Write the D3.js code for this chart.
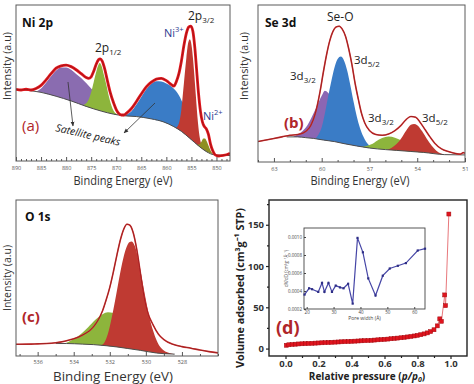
<!DOCTYPE html>
<html>
<head>
<meta charset="utf-8">
<script src="https://cdn.jsdelivr.net/npm/d3@7"></script>
<style>
  body { margin: 0; background: #fff; }
  text { font-family: "Open Sans", sans-serif; }
</style>
</head>
<body>
<script>

// ---------- (a) Ni 2p : [binding energy, intensity] ----------
var aTicks = [890, 885, 880, 875, 870, 865, 860, 855, 850];
var aRaw = [[890,46],[889,45.5],[888,46],[887,45.5],[886,46.5],[885,48.5],[884,52],[883,56],[882,59.5],[881,61],[880,61.5],[879,60.5],[878,58.5],[877,56],[876,53.5],[875.5,53],[875,54],[874.5,57.5],[874,62],[873.5,65],[873.2,65.5],[872.8,64],[872.3,59],[871.8,52],[871.2,44],[870.5,37],[870,33],[869.5,30.5],[869,29.5],[868.5,29.5],[868,30.5],[867,33.5],[866,38],[865,43],[864,47.5],[863,50.5],[862,52.5],[861,53],[860,51.5],[859,49],[858.5,48],[858,51],[857.5,56],[857,64],[856.5,74],[856,82],[855.5,86],[855.1,86.5],[854.7,83],[854.3,72],[854,60],[853.6,44],[853.2,32],[852.8,25],[852.4,22],[852,20.5],[851.6,17],[851.2,11],[850.8,7],[850.4,4.5],[850,3.5],[849.5,3.2],[849,3.5],[848,4],[847.3,5]];
var aBg = [[890,46],[887,45],[885,44],[882,41.5],[879,38.5],[876,35],[873,32],[870.5,30],[868.5,29],[866,28.5],[863,27],[860.5,25],[858.5,22],[857,19],[855.3,14.5],[853.5,9.5],[852,6],[850.5,4],[847.3,3.5]];
// peak heights above the background
var aSat1 = [[886,0],[885,2.5],[884,7],[883,12],[882,16.5],[881,19.5],[880,20.5],[879,20],[878,18.5],[877,17],[876,15],[875,12.5],[874,10],[873,7],[872,4],[871,1.5],[870,0.3],[869,0]];
var aP12 = [[876.5,0.5],[876,2],[875.5,5],[875,10],[874.5,17],[874,24],[873.5,29.5],[873.3,30.5],[873,29.5],[872.5,24],[872,18],[871.5,11],[871,5.5],[870.5,2],[870,0.5],[869.5,0]];
var aSat2 = [[868.5,0],[868,0.8],[867,3],[866,7.5],[865,13],[864,18.5],[863,22.5],[862,25],[861,25.5],[860,25.5],[859,25],[858,23.5],[857,20],[856,15],[855,9],[854,4],[853,1.5],[852,0.3],[851.5,0]];
var aNi3 = [[858,0.5],[857.5,4],[857,14],[856.5,32],[856,50],[855.6,61],[855.3,63.5],[855,61],[854.6,50],[854.2,34],[853.8,18],[853.4,7],[853,2],[852.5,0.3],[852,0]];
var aNi2 = [[853.8,0.3],[853.4,1.5],[853,4],[852.6,7],[852.3,7.7],[852,7],[851.6,4.5],[851.2,2],[850.8,0.5],[850.4,0]];

// ---------- (b) Se 3d ----------
var bTicks = [63, 60, 57, 54, 51];
var bRaw = [[64,13],[63.5,14],[63,15],[62.5,16],[62,17],[61.5,17.5],[61,19.5],[60.7,23],[60.4,31],[60.1,45],[59.9,57],[59.7,68],[59.5,77],[59.3,83],[59.1,86],[58.9,86.5],[58.7,84.5],[58.5,80],[58.3,72],[58.1,62],[57.9,50],[57.7,40],[57.5,31],[57.3,25],[57,20],[56.6,17.5],[56.2,17],[55.8,17.8],[55.4,20],[55,23.5],[54.7,27],[54.4,29],[54.1,28.5],[53.8,25],[53.5,20.5],[53.2,16],[52.9,12],[52.5,8.5],[52,6.5],[51.5,5.2],[51.3,5],[51.1,6],[51,5.5]];
var bBg = [[62.2,16],[61.5,16],[61,15.5],[60.5,15],[59.9,14],[59.2,13],[58.6,11.7],[57.8,10.2],[57,8.9],[56,7.9],[55.3,7.4],[54.4,6.7],[53.6,6.1],[52.3,4.7],[51,4.5]];
var bSeO32 = [[61.8,0],[61.5,1.5],[61.2,4],[60.9,8],[60.6,14],[60.3,21],[60,28],[59.8,31.5],[59.6,30.5],[59.3,26],[59,20],[58.7,14],[58.4,8.5],[58.1,4.5],[57.8,2],[57.5,0.7],[57.2,0]];
var bSeO52 = [[60.4,0],[60.2,3],[60,8],[59.8,17],[59.6,28],[59.4,38],[59.2,47],[59,53],[58.8,55],[58.6,53],[58.4,47],[58.2,38],[58,28],[57.8,19],[57.6,12],[57.4,7],[57.2,3.5],[57,1.5],[56.7,0.4],[56.4,0]];
var bSe32 = [[57.5,0],[57.2,1],[56.8,3],[56.4,6],[56,8],[55.8,8.5],[55.4,8],[55,6.5],[54.6,4.5],[54.2,2.5],[53.8,1],[53.4,0.3],[53,0]];
var bSe52 = [[55.9,0],[55.6,1.5],[55.3,4],[55,8],[54.7,13],[54.4,17],[54.2,17.7],[54,17],[53.7,13.5],[53.4,9],[53.1,5],[52.8,2],[52.5,0.5],[52.2,0]];

// ---------- (c) O 1s ----------
var cTicks = [536, 534, 532, 530, 528];
var cRaw = [[537.2,7.5],[536.5,7.6],[536,7.8],[535.5,8],[535,8.5],[534.5,9.5],[534,11],[533.5,13.5],[533,17.5],[532.7,22],[532.4,29],[532.2,36],[532,44],[531.8,54],[531.6,65],[531.4,75],[531.2,82],[531.05,84.5],[530.9,84],[530.7,79],[530.5,68],[530.3,53],[530.1,38],[529.9,28],[529.6,20],[529.3,14],[529,10.5],[528.5,7.5],[528,6],[527.5,5],[527,3.8],[526.5,2.8],[526,2]];
var cBg = [[535,8],[534.4,8],[533.5,7.6],[532.9,7.3],[532.2,6.6],[531.6,5.8],[531,4.8],[530.3,3.6],[529.4,1.9],[529,1.5],[528.4,1.2]];
var cOH = [[534.6,0],[534.4,0.5],[534,3],[533.6,6.5],[533.2,11],[532.8,16],[532.4,20],[532.1,21.5],[531.8,21.5],[531.4,19],[531,15],[530.6,10.5],[530.2,6],[529.8,3],[529.4,1.2],[529,0.3],[528.7,0]];
var cLat = [[532.5,0],[532.3,2],[532.1,8],[531.9,18],[531.7,30],[531.5,43],[531.3,55],[531.1,64],[530.9,68.5],[530.8,69],[530.6,66],[530.4,57],[530.2,45],[530,33],[529.8,22],[529.6,14],[529.4,8],[529.2,4],[529,2],[528.7,0.5],[528.4,0]];

// ---------- (d) N2 isotherm : [p/p0, volume] ----------
var dXTicks = [0, 0.2, 0.4, 0.6, 0.8, 1.0];
var dYTicks = [0, 50, 100, 150];
var dIso = [[0.005,4.0],[0.02,4.6],[0.04,5.0],[0.06,5.3],[0.08,5.6],[0.10,5.8],[0.12,6.0],[0.14,6.2],[0.16,6.4],[0.18,6.6],[0.20,6.8],[0.22,7.0],[0.24,7.2],[0.26,7.4],[0.28,7.6],[0.30,7.8],[0.32,8.0],[0.34,8.2],[0.36,8.4],[0.38,8.6],[0.40,8.8],[0.42,9.0],[0.44,9.2],[0.46,9.4],[0.48,9.6],[0.50,9.8],[0.52,10.0],[0.54,10.3],[0.56,10.6],[0.58,10.9],[0.60,11.2],[0.62,11.5],[0.64,11.9],[0.66,12.3],[0.68,12.7],[0.70,13.1],[0.72,13.6],[0.74,14.1],[0.76,14.7],[0.78,15.3],[0.80,16.0],[0.82,16.8],[0.84,17.8],[0.86,19.0],[0.88,20.6],[0.90,22.8],[0.92,27.5],[0.935,36.0],[0.945,33.0],[0.965,65.0],[0.97,52.0],[0.99,163.0]];
// inset: pore size distribution [pore width (A), dV/dD]
var dPoreTicks = [20, 30, 40, 50, 60];
var dPsdTicks = [0.0002, 0.0004, 0.0006, 0.0008, 0.0010];
var dPsd = [[19.2,0.00036],[20.9,0.00043],[22.0,0.00042],[24.3,0.00039],[25.7,0.00049],[26.6,0.00039],[28.1,0.00049],[29.4,0.00039],[30.8,0.00046],[32.4,0.00044],[33.7,0.00043],[35.4,0.00048],[37.1,0.00026],[38.9,0.00099],[40.9,0.00083],[42.9,0.00054],[45.6,0.00035],[48.3,0.00057],[50.9,0.00065],[53.9,0.00068],[56.9,0.00071],[61.3,0.00085],[64.0,0.00087]];

var svg = d3.select("body").append("svg")
  .attr("width", 474)
  .attr("height", 384);

var defs = svg.append("defs");
defs.append("marker").attr("id", "arr")
  .attr("viewBox", "0 0 10 10").attr("refX", 9).attr("refY", 5)
  .attr("markerWidth", 6).attr("markerHeight", 6).attr("orient", "auto")
  .append("path").attr("d", "M0,1 L10,5 L0,9 z").attr("fill", "#333");

function xpsPanel(o) {
  var x = d3.scaleLinear().domain(o.eDomain).range([o.left, o.left + o.w]);
  var y = d3.scaleLinear().domain([0, 100]).range([o.top + o.h, o.top]);
  defs.append("clipPath").attr("id", "clip" + o.name)
    .append("rect").attr("x", o.left).attr("y", o.top).attr("width", o.w).attr("height", o.h);
  var g = svg.append("g").attr("clip-path", "url(#clip" + o.name + ")");

  // background used as the base of each fitted peak
  var bgAsc = o.bg.slice().sort(function (a, b) { return a[0] - b[0]; });
  var base = d3.scaleLinear().domain(bgAsc.map(function (d) { return d[0]; }))
    .range(bgAsc.map(function (d) { return d[1]; })).clamp(true);

  o.comps.forEach(function (c) {
    var area = d3.area().curve(d3.curveMonotoneX)
      .x(function (d) { return x(d[0]); })
      .y0(function (d) { return y(base(d[0])); })
      .y1(function (d) { return y(base(d[0]) + d[1]); });
    g.append("path").datum(c.data).attr("fill", c.color).attr("d", area);
  });

  var line = d3.line().curve(d3.curveMonotoneX)
    .x(function (d) { return x(d[0]); })
    .y(function (d) { return y(d[1]); });
  g.append("path").datum(o.bg).attr("fill", "none").attr("stroke", "#4d4d4d").attr("stroke-width", 1).attr("d", line);

  g.append("path").datum(o.raw).attr("fill", "none").attr("stroke", o.rawColor)
    .attr("stroke-width", o.rawWidth).attr("stroke-linejoin", "round").attr("d", line);
  g.append("path").datum(o.raw).attr("fill", "none").attr("stroke", "#8a1616")
    .attr("stroke-width", 0.7).attr("d", line);

  svg.append("rect").attr("x", o.left).attr("y", o.top).attr("width", o.w).attr("height", o.h)
    .attr("fill", "none").attr("stroke", "#5a5a5a").attr("stroke-width", 1);

  var lo = Math.min(o.eDomain[0], o.eDomain[1]), hi = Math.max(o.eDomain[0], o.eDomain[1]);
  var minors = d3.range(Math.ceil(lo), hi + 0.001, 1).filter(function (v) { return o.ticks.indexOf(v) < 0; });
  var ax = svg.append("g").attr("transform", "translate(0," + (o.top + o.h) + ")");
  ax.call(d3.axisBottom(x).tickValues(o.ticks).tickSize(-4).tickPadding(o.pad).tickFormat(d3.format("d")));
  ax.append("g").call(d3.axisBottom(x).tickValues(minors).tickSize(-2).tickFormat(""));
  ax.selectAll(".domain").remove();
  ax.selectAll("line").attr("stroke", "#555");
  ax.selectAll("text").attr("font-size", 5.5).attr("fill", "#555").attr("font-family", "Open Sans, sans-serif");

  svg.append("text").attr("x", o.left + o.xTitleDx).attr("y", o.xTitleY).attr("text-anchor", "middle")
    .attr("font-size", o.titleSize).attr("fill", "#333").attr("textLength", o.xTitleLen)
    .attr("lengthAdjust", "spacingAndGlyphs").text("Binding Energy (eV)");
  svg.append("text").attr("transform", "translate(" + o.yTitleX + "," + o.yTitleY + ") rotate(-90)")
    .attr("text-anchor", "middle").attr("font-size", 11.5).attr("fill", "#333")
    .attr("textLength", o.yTitleLen).attr("lengthAdjust", "spacingAndGlyphs").text("Intensity (a.u)");
}

xpsPanel({ name: "a", left: 16, top: 5, w: 214, h: 156, eDomain: [890, 847.3], ticks: aTicks, pad: 5,
  raw: aRaw, bg: aBg, rawColor: "#e3161d", rawWidth: 2.8,
  comps: [{ data: aSat1, color: "#8a6cb0" }, { data: aP12, color: "#8db53c" },
          { data: aSat2, color: "#3a7cc6" }, { data: aNi3, color: "#bf3a32" }, { data: aNi2, color: "#8e8f22" }],
  xTitleDx: 107, xTitleY: 185, xTitleLen: 99, titleSize: 12.5, yTitleX: 11, yTitleY: 66, yTitleLen: 68 });

xpsPanel({ name: "b", left: 258, top: 5, w: 207, h: 157, eDomain: [64, 51], ticks: bTicks, pad: 5,
  raw: bRaw, bg: bBg, rawColor: "#d23a3a", rawWidth: 1.6,
  comps: [{ data: bSeO32, color: "#8b66b3" }, { data: bSeO52, color: "#3a7cc6" },
          { data: bSe32, color: "#8db53c" }, { data: bSe52, color: "#bf3a32" }],
  xTitleDx: 102, xTitleY: 185, xTitleLen: 99, titleSize: 12.5, yTitleX: 248, yTitleY: 66, yTitleLen: 68 });

xpsPanel({ name: "c", left: 16, top: 200, w: 202, h: 156, eDomain: [537.2, 526], ticks: cTicks, pad: 4,
  raw: cRaw, bg: cBg, rawColor: "#d23a3a", rawWidth: 1.6,
  comps: [{ data: cOH, color: "#8db53c" }, { data: cLat, color: "#bf3a32" }],
  xTitleDx: 97, xTitleY: 381, xTitleLen: 120, titleSize: 13, yTitleX: 11, yTitleY: 278, yTitleLen: 66 });

// ---------- panel annotations ----------
function addText(x, y, size, color, weight, parts) {
  var t = svg.append("text").attr("x", x).attr("y", y).attr("font-size", size)
    .attr("fill", color).attr("font-weight", weight);
  parts.forEach(function (p) {
    if (typeof p === "string") t.append("tspan").text(p);
    else t.append("tspan").attr("dy", p.dy).attr("font-size", p.size).text(p.t);
  });
  return t;
}
var navy = "#2b3a8f", dark = "#222", maroon = "#b0262a";
addText(22, 27, 12, "#111", "bold", ["Ni 2p"]);
addText(95, 52, 12, dark, "normal", ["2p", { t: "1/2", dy: 3, size: 8 }]);
addText(188, 20, 12, dark, "normal", ["2p", { t: "3/2", dy: 3, size: 8 }]);
addText(164, 37, 11, navy, "normal", ["Ni", { t: "3+", dy: -5, size: 7.5 }]);
addText(203, 120, 11, navy, "normal", ["Ni", { t: "2+", dy: -5, size: 7.5 }]);
addText(22, 131, 15, maroon, "normal", ["(a)"]);
svg.append("text").attr("transform", "translate(55,131) rotate(13)").attr("font-size", 10.5)
  .attr("font-style", "italic").attr("fill", dark).text("Satellite peaks");
svg.append("line").attr("x1", 68).attr("y1", 82).attr("x2", 73).attr("y2", 126)
  .attr("stroke", "#333").attr("stroke-width", 0.8).attr("marker-end", "url(#arr)");
svg.append("line").attr("x1", 155).attr("y1", 103).attr("x2", 124).attr("y2", 133)
  .attr("stroke", "#333").attr("stroke-width", 0.8).attr("marker-end", "url(#arr)");

addText(265, 27, 12, "#111", "bold", ["Se 3d"]);
addText(327, 21, 12, dark, "normal", ["Se-O"]);
addText(354, 64, 11.5, dark, "normal", ["3d", { t: "5/2", dy: 3, size: 8 }]);
addText(290, 80, 11.5, dark, "normal", ["3d", { t: "3/2", dy: 3, size: 8 }]);
addText(368, 122, 11.5, dark, "normal", ["3d", { t: "3/2", dy: 3, size: 8 }]);
addText(422, 122, 11.5, dark, "normal", ["3d", { t: "5/2", dy: 3, size: 8 }]);
addText(284, 128, 15, maroon, "bold", ["(b)"]);

addText(25, 221, 12, "#111", "bold", ["O 1s"]);
addText(22, 322, 15, maroon, "bold", ["(c)"]);

// ---------- (d) isotherm ----------
var dL = 269, dT = 200, dW = 198, dH = 156;
var dx = d3.scaleLinear().domain([-0.1, 1.1]).range([dL, dL + dW]);
var dy = d3.scaleLinear().domain([-9, 180]).range([dT + dH, dT]);
var arial = "Liberation Sans, Arial, sans-serif";

var dxAxis = svg.append("g").attr("transform", "translate(0," + (dT + dH) + ")");
dxAxis.call(d3.axisBottom(dx).tickValues(dXTicks).tickSize(3).tickPadding(1).tickFormat(d3.format(".1f")));
dxAxis.append("g").call(d3.axisBottom(dx).tickValues([0.1, 0.3, 0.5, 0.7, 0.9]).tickSize(2).tickFormat(""));
var dyAxis = svg.append("g").attr("transform", "translate(" + dL + ",0)");
dyAxis.call(d3.axisLeft(dy).tickValues(dYTicks).tickSize(3).tickPadding(2));
dyAxis.append("g").call(d3.axisLeft(dy).tickValues([25, 75, 125, 175]).tickSize(2).tickFormat(""));
[dxAxis, dyAxis].forEach(function (a) {
  a.selectAll(".domain").remove();
  a.selectAll("line").attr("stroke", "#222").attr("stroke-width", 1.2);
  a.selectAll("text").attr("font-size", 9.5).attr("font-weight", "bold")
    .attr("fill", "#333").attr("font-family", arial);
});
svg.append("rect").attr("x", dL).attr("y", dT).attr("width", dW).attr("height", dH)
  .attr("fill", "none").attr("stroke", "#222").attr("stroke-width", 1.4);

svg.append("path").datum(dIso).attr("fill", "none").attr("stroke", "#e8787c").attr("stroke-width", 1)
  .attr("d", d3.line().x(function (d) { return dx(d[0]); }).y(function (d) { return dy(d[1]); }));
svg.selectAll("rect.iso").data(dIso).enter().append("rect").attr("class", "iso")
  .attr("x", function (d) { return dx(d[0]) - 2; })
  .attr("y", function (d) { return dy(d[1]) - 2; })
  .attr("width", 4).attr("height", 4)
  .attr("fill", "#e0141e").attr("stroke", "#a30d12").attr("stroke-width", 0.5);

svg.append("text").attr("transform", "translate(244,288) rotate(-90)").attr("text-anchor", "middle")
  .attr("font-size", 11).attr("font-weight", "bold").attr("font-family", arial).attr("fill", "#222")
  .attr("textLength", 160).attr("lengthAdjust", "spacingAndGlyphs")
  .text("Volume adsorbed (cm\u00b3g\u207b\u00b9 STP)");
var xt = svg.append("text").attr("x", 367).attr("y", 380).attr("text-anchor", "middle")
  .attr("font-size", 10).attr("font-weight", "bold").attr("font-family", arial).attr("fill", "#222");
xt.append("tspan").text("Relative pressure (");
xt.append("tspan").attr("font-style", "italic").text("p/p");
xt.append("tspan").attr("font-style", "italic").attr("dy", 2).attr("font-size", 7).text("0");
xt.append("tspan").attr("dy", -2).text(")");
svg.append("text").attr("x", 276).attr("y", 334).attr("font-size", 18).attr("font-weight", "bold")
  .attr("font-family", arial).attr("fill", maroon).text("(d)");

// inset
var iL = 304, iT = 228, iW = 121, iH = 81;
var ix = d3.scaleLinear().domain([19, 64]).range([iL, iL + iW]);
var iy = d3.scaleLinear().domain([0.0002, 0.0011]).range([iT + iH, iT]);
svg.append("rect").attr("x", iL).attr("y", iT).attr("width", iW).attr("height", iH)
  .attr("fill", "#fff").attr("stroke", "#444").attr("stroke-width", 0.9);
var ixAxis = svg.append("g").attr("transform", "translate(0," + (iT + iH) + ")")
  .call(d3.axisBottom(ix).tickValues(dPoreTicks).tickSize(-2).tickPadding(2));
var iyAxis = svg.append("g").attr("transform", "translate(" + iL + ",0)")
  .call(d3.axisLeft(iy).tickValues(dPsdTicks).tickSize(-2).tickPadding(2).tickFormat(d3.format(".4f")));
[ixAxis, iyAxis].forEach(function (a) {
  a.selectAll(".domain").remove();
  a.selectAll("line").attr("stroke", "#444");
  a.selectAll("text").attr("font-size", 4.5).attr("fill", "#444").attr("font-family", arial);
});
svg.append("path").datum(dPsd).attr("fill", "none").attr("stroke", "#4646a6").attr("stroke-width", 1.2)
  .attr("d", d3.line().x(function (d) { return ix(d[0]); }).y(function (d) { return iy(d[1]); }));
svg.selectAll("rect.psd").data(dPsd).enter().append("rect").attr("class", "psd")
  .attr("x", function (d) { return ix(d[0]) - 1.1; })
  .attr("y", function (d) { return iy(d[1]) - 1.1; })
  .attr("width", 2.2).attr("height", 2.2).attr("fill", "#2e2e86");
svg.append("text").attr("x", iL + iW / 2).attr("y", iT + iH + 11).attr("text-anchor", "middle")
  .attr("font-size", 5).attr("fill", "#444").attr("font-family", arial).text("Pore width (\u00c5)");
svg.append("text").attr("transform", "translate(" + (iL - 16) + "," + (iT + iH / 2) + ") rotate(-90)")
  .attr("text-anchor", "middle").attr("font-size", 4.5).attr("fill", "#444").attr("font-family", arial)
  .text("dV/dD (cm\u00b3g\u207b\u00b9\u00c5\u207b\u00b9)");

</script>
</body>
</html>
